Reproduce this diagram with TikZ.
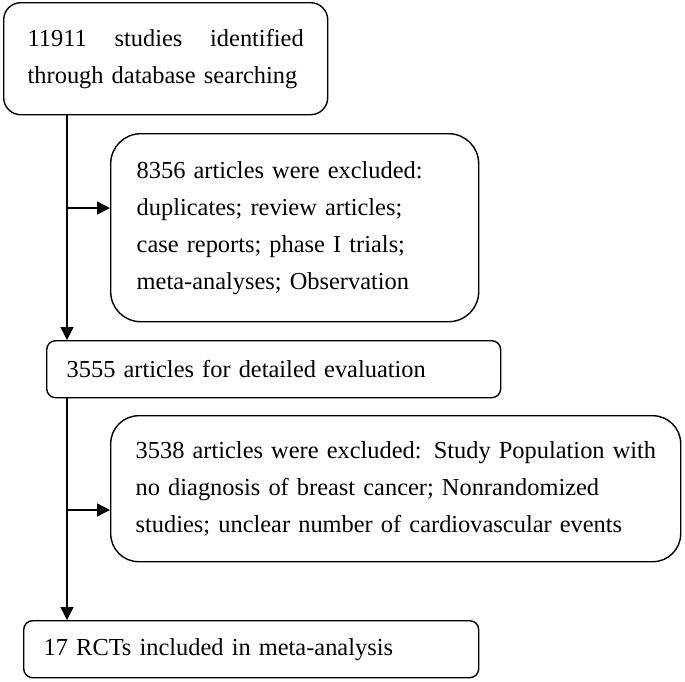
\documentclass[tikz,border=0pt]{standalone}
\usepackage{fontspec}
\setmainfont{Liberation Serif}
\usetikzlibrary{arrows.meta}
\begin{document}
\begin{tikzpicture}[x=1pt,y=1pt,
  box/.style={draw,line width=1.4pt,anchor=north west,align=left,
    font=\fontsize{24.4}{37}\selectfont,inner ysep=0pt},
  arr/.style={line width=1.4pt,-{Triangle[length=13pt,width=13pt]}}]
\useasboundingbox (0,0) rectangle (685,-681);
\node[box,rounded corners=17pt,text width=276pt,inner xsep=24pt,minimum height=112pt] (b1) at (3,-2)
  {11911\hfill studies\hfill identified\\\mbox{through database searching}};
\node[box,rounded corners=30pt,text width=316pt,inner xsep=26pt,minimum height=188pt] (b2) at (110,-133)
  {\mbox{8356 articles were excluded:}\\\mbox{duplicates; review articles;}\\\mbox{case reports; phase I trials;}\\\mbox{meta-analyses; Observation}};
\node[box,rounded corners=9pt,text width=414pt,inner xsep=20pt,minimum height=57pt] (b3) at (46,-340)
  {\mbox{3555 articles for detailed evaluation}};
\node[box,rounded corners=28pt,text width=520pt,inner xsep=25pt,minimum height=146pt] (b4) at (110,-415)
  {\mbox{3538 articles were excluded: Study Population with}\\\mbox{no diagnosis of breast cancer; Nonrandomized}\\\mbox{studies; unclear number of cardiovascular events}};
\node[box,rounded corners=9pt,text width=415pt,inner xsep=20pt,minimum height=57pt] (b5) at (23,-620)
  {\mbox{17 RCTs included in meta-analysis}};
\coordinate (t) at (67,0);
\coordinate (j1) at (67,-208);
\coordinate (j2) at (67,-510);
\draw[arr] (b1.south -| t) -- (b3.north -| t);
\draw[arr] (j1) -- (j1 -| b2.west);
\draw[arr] (b3.south -| t) -- (b5.north -| t);
\draw[arr] (j2) -- (j2 -| b4.west);
\end{tikzpicture}
\end{document}
